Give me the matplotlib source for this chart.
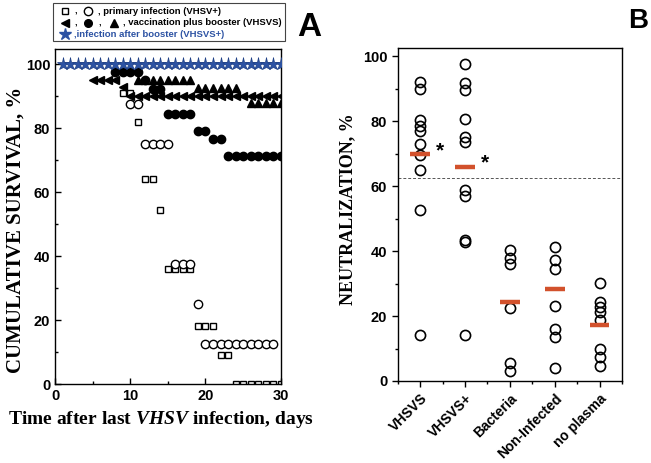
import matplotlib
matplotlib.use("Agg")
import matplotlib.pyplot as plt
from matplotlib.patches import Rectangle
from matplotlib.ticker import MultipleLocator, FixedLocator

plt.rcParams['mathtext.fontset'] = 'custom'
plt.rcParams['mathtext.it'] = 'Liberation Serif:italic:bold'
plt.rcParams['mathtext.rm'] = 'Liberation Serif:bold'

# ---------------- Panel A data ----------------
star_days = [1, 2, 3, 4, 5, 6, 7, 8, 9, 10, 11, 12, 13, 14, 15, 16, 17, 18, 19, 20,
             21, 22, 23, 24, 25, 26, 27, 28, 29, 30]
star_vals = [100, 100, 100, 100, 100, 100, 100, 100, 100, 100, 100, 100, 100, 100, 100,
             100, 100, 100, 100, 100, 100, 100, 100, 100, 100, 100, 100, 100, 100, 100]

sq_days = [9, 10, 11, 12, 13, 14, 15, 16, 17, 18, 19, 20, 21, 22, 23, 24, 25, 26, 27, 28, 29, 30]
sq_vals = [91, 91, 82, 64, 64, 54.5, 36, 36, 36, 36, 18, 18, 18, 9, 9, 0, 0, 0, 0, 0, 0, 0]

oc_days = [10, 11, 12, 13, 14, 15, 16, 17, 18, 19, 20, 21, 22, 23, 24, 25, 26, 27, 28, 29]
oc_vals = [87.5, 87.5, 75, 75, 75, 75, 37.5, 37.5, 37.5, 25, 12.5, 12.5, 12.5, 12.5, 12.5,
           12.5, 12.5, 12.5, 12.5, 12.5]

fc_days = [8, 9, 10, 11, 12, 13, 14, 15, 16, 17, 18, 19, 20, 21, 22, 23, 24, 25, 26, 27, 28, 29, 30]
fc_vals = [97.5, 97.5, 97.5, 97.5, 95, 92.3, 92.3, 84.5, 84.5, 84.5, 84.5, 79, 79, 76.5, 76.5,
           71.3, 71.3, 71.3, 71.3, 71.3, 71.3, 71.3, 71.3]

lt_days = [5, 6, 7, 8, 9, 10, 11, 12, 13, 14, 15, 16, 17, 18, 19, 20, 21, 22, 23, 24, 25, 26,
           27, 28, 29, 30]
lt_vals = [95, 95, 95, 95, 93, 90, 90, 90, 90, 90, 90, 90, 90, 90, 90, 90, 90, 90, 90, 90, 90,
           90, 90, 90, 90, 90]

ut_days = [11, 12, 13, 14, 15, 16, 17, 18, 19, 20, 21, 22, 23, 24, 26, 27, 28, 29, 30]
ut_vals = [95, 95, 95, 95, 95, 95, 95, 95, 92.5, 92.5, 92.5, 92.5, 92.5, 92.5, 88, 88, 88, 88, 88]

# ---------------- Panel B data ----------------
groups = ["VHSVS", "VHSVS+", "Bacteria", "Non-Infected", "no plasma"]
vhsvs = [92, 90, 80.5, 78.5, 77, 73, 69.5, 65, 52.6, 14.2]
vhsvs_plus = [97.7, 91.9, 89.7, 80.8, 75.2, 73.6, 58.8, 56.9, 43.6, 42.9, 14.2]
bacteria = [40.5, 37.9, 36.2, 22.4, 5.4, 3.2]
non_infected = [41.3, 37.2, 34.5, 23.1, 15.9, 13.6, 4.1]
no_plasma = [30.3, 24.4, 22.8, 21.3, 18.8, 10.0, 7.5, 4.7]
medians = [70, 66, 24.4, 28.5, 17.2]
threshold = 62.7
star_groups = [0, 1]
star_heights = [71, 67.3]

W, H = 651, 463
fig = plt.figure(figsize=(W / 100, H / 100), dpi=100)

def frac(l, t, r, b):
    return [l / W, 1 - b / H, (r - l) / W, (b - t) / H]

BLUE = '#2c52a3'

# ---------------- Panel A ----------------
axA = fig.add_axes(frac(55, 49.3, 280.7, 384))
kw = dict(linestyle='none', color='black')
axA.plot(sq_days, sq_vals, marker='s', markersize=5, markerfacecolor='white',
         markeredgecolor='black', markeredgewidth=1.0, **kw)
axA.plot(oc_days, oc_vals, marker='o', markersize=6, markerfacecolor='white',
         markeredgecolor='black', markeredgewidth=1.0, **kw)
axA.plot(lt_days, lt_vals, marker='<', markersize=6, **kw)
axA.plot(ut_days, ut_vals, marker='^', markersize=6, **kw)
axA.plot(fc_days, fc_vals, marker='o', markersize=6, **kw)
axA.plot(star_days, star_vals, marker='*', markersize=9.5, linestyle='none',
         color=BLUE, markeredgecolor='#1e3f85', markeredgewidth=0.5, zorder=5)
axA.set_xlim(0, 30)
axA.set_ylim(0, 104.7)
axA.xaxis.set_major_locator(MultipleLocator(10))
axA.xaxis.set_minor_locator(MultipleLocator(5))
axA.yaxis.set_major_locator(MultipleLocator(20))
axA.yaxis.set_minor_locator(MultipleLocator(10))
axA.tick_params(axis='both', which='major', direction='in', length=4, width=1, labelsize=10.5)
axA.tick_params(axis='both', which='minor', direction='in', length=2.5, width=1)
for lab in axA.get_xticklabels() + axA.get_yticklabels():
    lab.set_fontfamily('Liberation Sans')
    lab.set_fontweight('bold')
for s in axA.spines.values():
    s.set_linewidth(1.0)
axA.set_ylabel("CUMULATIVE SURVIVAL, %", family='Liberation Serif', weight='bold',
               fontsize=15)
axA.yaxis.set_label_coords(-0.13, 0.46)
axA.set_xlabel(r"Time after last $\mathit{VHSV}$ infection, days", family='Liberation Serif',
               weight='bold', fontsize=14)
axA.xaxis.set_label_coords(0.47, -0.075)

# ---------------- Panel B ----------------
axB = fig.add_axes(frac(397.7, 47.7, 622, 381))
series = [vhsvs, vhsvs_plus, bacteria, non_infected, no_plasma]
for i, vals in enumerate(series):
    axB.plot([i + 1] * len(vals), vals, linestyle='none', marker='o', markersize=7.3,
             markerfacecolor='none', markeredgecolor='black', markeredgewidth=1.2, zorder=3)
    axB.plot([i + 1 - 0.22, i + 1 + 0.22], [medians[i], medians[i]], color='#d2512c',
             linewidth=3.2, solid_capstyle='butt', zorder=4)
axB.axhline(threshold, color='#555555', linestyle=(0, (3, 2)), linewidth=0.7)
for g, h in zip(star_groups, star_heights):
    axB.text(g + 1 + 0.44, h, "*", fontsize=15, fontweight='bold', family='Liberation Sans',
             ha='center', va='center')
axB.set_xlim(0.5, 5.5)
axB.set_ylim(0, 102.7)
axB.xaxis.set_major_locator(FixedLocator([1, 2, 3, 4, 5]))
axB.xaxis.set_minor_locator(FixedLocator([0.5, 1.5, 2.5, 3.5, 4.5, 5.5]))
axB.set_xticklabels(groups)
axB.yaxis.set_major_locator(MultipleLocator(20))
axB.yaxis.set_minor_locator(MultipleLocator(10))
axB.tick_params(axis='y', which='major', direction='out', length=4, width=1, labelsize=10.5)
axB.tick_params(axis='x', which='major', direction='out', length=4, width=1, labelsize=10)
axB.tick_params(axis='both', which='minor', direction='out', length=2.5, width=1)
for lab in axB.get_xticklabels():
    lab.set_rotation(45)
    lab.set_ha('right')
    lab.set_rotation_mode('anchor')
for lab in axB.get_xticklabels() + axB.get_yticklabels():
    lab.set_fontfamily('Liberation Sans')
    lab.set_fontweight('bold')
for s in axB.spines.values():
    s.set_linewidth(1.0)
axB.set_ylabel("NEUTRALIZATION, %", family='Liberation Serif', weight='bold',
               fontsize=13)
axB.yaxis.set_label_coords(-0.186, 0.516)

# ---------------- Overlay: legend box and panel letters ----------------
ov = fig.add_axes([0, 0, 1, 1], zorder=10)
ov.set_xlim(0, W)
ov.set_ylim(H, 0)
ov.axis('off')
ov.patch.set_alpha(0)
ov.add_patch(Rectangle((53, 3), 232, 38, facecolor='white', edgecolor='#444444', linewidth=0.8))
lf = dict(family='Liberation Sans', weight='bold', fontsize=6.8, va='center', ha='left')
ov.plot([65], [11], marker='s', markersize=5, markerfacecolor='white', markeredgecolor='black')
ov.text(74, 11, ",", **lf)
ov.plot([88], [11], marker='o', markersize=6, markerfacecolor='white', markeredgecolor='black')
ov.text(98, 11, ", primary infection (VHSV+)", **lf)
ov.plot([65], [22.7], marker='<', markersize=6, color='black')
ov.text(74, 22.7, ",", **lf)
ov.plot([88], [22.7], marker='o', markersize=5.5, color='black')
ov.text(98, 22.7, ",", **lf)
ov.plot([114], [22.7], marker='^', markersize=6, color='black')
ov.text(123, 22.7, ", vaccination plus booster (VHSVS)", **lf)
ov.plot([65], [34.3], marker='*', markersize=9, color=BLUE)
ov.text(74, 34.3, ",infection after booster (VHSVS+)", color=BLUE, **lf)

ov.text(309, 27, "A", family='Liberation Sans', weight='bold', fontsize=24, ha='center', va='center')
ov.text(638, 21, "B", family='Liberation Sans', weight='bold', fontsize=20, ha='center', va='center')

fig.savefig("out.png", dpi=100)
